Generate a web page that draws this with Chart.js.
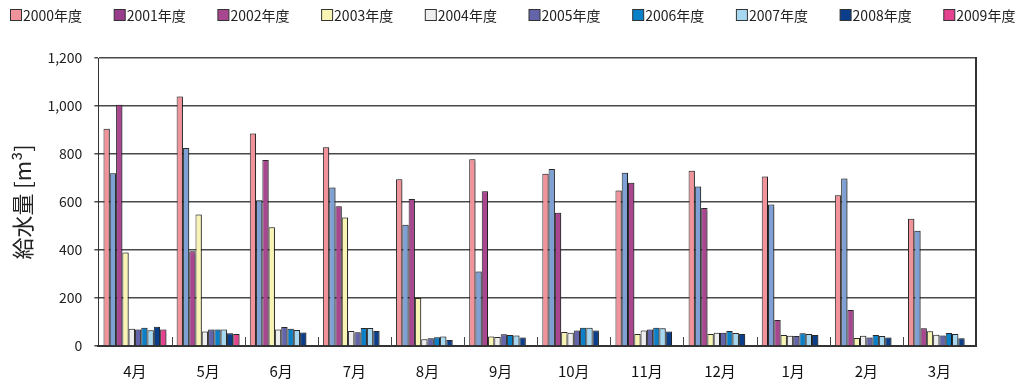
<!DOCTYPE html>
<html>
<head>
<meta charset="utf-8">
<script src="https://cdn.jsdelivr.net/npm/chart.js@4"></script>
<style>
  html, body { margin: 0; padding: 0; background: #fff; }
  #wrap { width: 1019px; height: 383px; }
</style>
</head>
<body>
<div id="wrap"><canvas id="chart"></canvas></div>
<script>
const months = ['4月', '5月', '6月', '7月', '8月', '9月', '10月', '11月', '12月', '1月', '2月', '3月'];
const years = ['2000年度', '2001年度', '2002年度', '2003年度', '2004年度', '2005年度', '2006年度', '2007年度', '2008年度', '2009年度'];

const y2000 = [905, 1040, 885, 828, 695, 778, 718, 648, 730, 706, 628, 530];
const y2001 = [720, 825, 607, 660, 505, 310, 738, 722, 665, 590, 698, 480];
const y2002 = [1005, 395, 775, 582, 612, 645, 555, 680, 575, 108, 150, 74];
const y2003 = [390, 548, 495, 535, 200, 40, 58, 50, 50, 46, 33, 61];
const y2004 = [72, 60, 69, 62, 28, 37, 55, 65, 55, 43, 43, 47];
const y2005 = [69, 69, 79, 57, 32, 49, 65, 69, 55, 42, 35, 44];
const y2006 = [76, 69, 72, 75, 36, 46, 76, 76, 62, 53, 46, 54];
const y2007 = [66, 69, 67, 75, 40, 44, 76, 74, 54, 50, 42, 50];
const y2008 = [80, 53, 56, 62, 25, 35, 65, 60, 50, 46, 35, 32];
const y2009 = [69, 50, null, null, null, null, null, null, null, null, null, null];

const yTicks = [0, 200, 400, 600, 800, 1000, 1200];

const series = [y2000, y2001, y2002, y2003, y2004, y2005, y2006, y2007, y2008, y2009];
const barColors = ['#f0939b', '#7fa0d4', '#a8468f', '#f8f4b4', '#eeeeee', '#6464aa', '#0a80c8', '#a6d8f2', '#0a3e8a', '#e4428e'];
// the 2001 swatch in the key is purple, not the bar's blue
const keyColors = ['#f0939b', '#983c8c', '#a8468f', '#f8f4b4', '#eeeeee', '#6464aa', '#0a80c8', '#a6d8f2', '#0a3e8a', '#e4428e'];

const FONT = '"Noto Sans CJK JP", "Noto Sans", sans-serif';

// soft drop shadow behind bars
const barShadow = {
  id: 'barShadow',
  beforeDatasetsDraw(chart) {
    const ctx = chart.ctx;
    ctx.save();
    ctx.shadowColor = 'rgba(0,0,0,0.35)';
    ctx.shadowOffsetX = 1.5;
    ctx.shadowOffsetY = 0;
    ctx.shadowBlur = 1;
  },
  afterDatasetsDraw(chart) {
    chart.ctx.restore();
  }
};

// right frame edge and short ticks between months
const frame = {
  id: 'frame',
  afterDatasetsDraw(chart) {
    const { ctx, chartArea } = chart;
    const x = chart.scales.x;
    ctx.save();
    ctx.strokeStyle = '#333';
    ctx.lineWidth = 2;
    ctx.beginPath();
    ctx.moveTo(chartArea.right, chartArea.top - 1);
    ctx.lineTo(chartArea.right, chartArea.bottom);
    ctx.stroke();
    ctx.lineWidth = 1;
    ctx.strokeStyle = '#444';
    ctx.beginPath();
    for (let i = 1; i < months.length; i++) {
      const px = Math.round((x.getPixelForValue(i - 1) + x.getPixelForValue(i)) / 2) + 0.5;
      ctx.moveTo(px, chartArea.bottom);
      ctx.lineTo(px, chartArea.bottom - 9);
    }
    ctx.stroke();
    ctx.restore();
  }
};

// one-row key across the top
const key = {
  id: 'key',
  afterDraw(chart) {
    const ctx = chart.ctx;
    const step = 103.7;
    ctx.save();
    ctx.font = '14px ' + FONT;
    ctx.textBaseline = 'middle';
    chart.data.datasets.forEach((ds, i) => {
      const bx = 10 + i * step;
      ctx.fillStyle = keyColors[i];
      ctx.fillRect(bx + 0.5, 9.5, 11, 11);
      ctx.strokeStyle = '#333';
      ctx.lineWidth = 1;
      ctx.strokeRect(bx + 0.5, 9.5, 11, 11);
      ctx.fillStyle = '#222';
      ctx.fillText(ds.label, bx + 13, 15.5);
    });
    ctx.restore();
  }
};

new Chart(document.getElementById('chart'), {
  type: 'bar',
  data: {
    labels: months,
    datasets: series.map((data, i) => ({
      label: years[i],
      data: data,
      backgroundColor: barColors[i],
      borderColor: '#2a2a2a',
      borderWidth: 1,
      categoryPercentage: 0.86,
      barPercentage: 1
    }))
  },
  options: {
    responsive: true,
    maintainAspectRatio: false,
    animation: false,
    layout: { padding: { top: 58, right: 43, bottom: -13, left: 0 } },
    plugins: {
      legend: { display: false },
      tooltip: { enabled: false }
    },
    scales: {
      x: {
        grid: { display: true, drawOnChartArea: false, drawTicks: false },
        border: { color: '#333', width: 2 },
        ticks: { color: '#111', font: { family: FONT, size: 15 }, padding: 16 }
      },
      y: {
        min: 0,
        max: 1200,
        afterBuildTicks(scale) {
          scale.ticks = yTicks.map(v => ({ value: v }));
        },
        grid: { color: '#4a4a4a', lineWidth: 1.5, tickLength: 4 },
        border: { color: '#333', width: 1 },
        ticks: {
          color: '#222',
          font: { family: FONT, size: 14 },
          padding: 12,
          callback: v => v.toLocaleString('en-US')
        },
        title: {
          display: true,
          text: '給水量 [m³]',
          color: '#222',
          font: { family: FONT, size: 22 },
          padding: { top: 9, bottom: 0 }
        }
      }
    }
  },
  plugins: [barShadow, frame, key]
});
</script>
</body>
</html>
